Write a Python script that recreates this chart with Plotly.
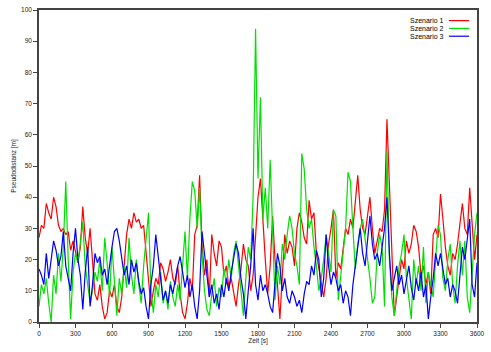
import plotly.graph_objects as go

t = list(range(0, 3601, 20))

szenario1 = [27, 31, 30, 38, 35, 33, 40, 37, 31, 29, 30, 28, 29, 23, 26,
             22, 19, 24, 37, 27, 22, 30, 18, 9, 7, 12, 5, 1, 3, 10,
             8, 12, 5, 3, 8, 18, 28, 33, 30, 35, 32, 33, 30, 31, 22,
             12, 5, 10, 14, 12, 19, 17, 13, 16, 20, 14, 12, 18, 9, 3,
             1, 6, 14, 10, 28, 31, 47, 25, 15, 20, 8, 28, 22, 18, 26,
             24, 15, 18, 11, 14, 9, 5, 12, 17, 25, 20, 18, 10, 15, 28,
             40, 46, 32, 20, 9, 18, 34, 20, 12, 1, 15, 28, 22, 26, 24,
             18, 30, 35, 32, 27, 25, 39, 33, 35, 22, 17, 12, 8, 14, 25,
             30, 36, 14, 19, 17, 24, 30, 28, 33, 30, 38, 47, 36, 30, 28,
             34, 40, 30, 22, 26, 30, 29, 36, 65, 45, 20, 2, 8, 15, 20,
             17, 26, 22, 25, 31, 29, 24, 15, 18, 12, 16, 9, 28, 30, 27,
             41, 33, 24, 18, 15, 22, 20, 25, 32, 38, 30, 28, 43, 33, 20,
             28]

szenario2 = [5, 12, 9, 14, 6, 0, 15, 9, 22, 13, 24, 45, 20, 1, 16,
             22, 19, 26, 32, 18, 12, 6, 10, 16, 13, 20, 10, 27, 19, 8,
             24, 12, 2, 14, 9, 18, 11, 27, 15, 9, 20, 12, 6, 18, 26,
             35, 10, 3, 12, 8, 16, 6, 10, 4, 13, 8, 5, 12, 7, 18,
             29, 14, 33, 45, 42, 30, 43, 22, 10, 4, 2, 9, 14, 5, 11,
             8, 17, 12, 20, 14, 22, 26, 18, 8, 2, 14, 24, 20, 40, 94,
             46, 72, 33, 43, 30, 52, 28, 7, 18, 12, 25, 20, 28, 34, 30,
             22, 18, 12, 54, 49, 36, 30, 33, 24, 18, 10, 14, 20, 28, 22,
             16, 36, 34, 7, 14, 22, 30, 48, 45, 30, 17, 25, 30, 33, 27,
             20, 14, 6, 8, 22, 28, 24, 5, 55, 20, 8, 2, 10, 18, 22,
             28, 14, 8, 1, 20, 12, 18, 10, 24, 6, 16, 12, 8, 20, 31,
             28, 14, 10, 20, 25, 12, 6, 18, 26, 15, 26, 8, 3, 14, 28,
             35]

szenario3 = [17, 15, 12, 22, 14, 20, 26, 23, 18, 21, 29, 18, 14, 10, 22,
             30, 20, 15, 4, 16, 24, 5, 12, 22, 19, 21, 15, 17, 12, 19,
             24, 29, 30, 26, 21, 15, 18, 12, 20, 16, 19, 13, 9, 11, 5,
             1, 12, 18, 28, 20, 14, 7, 10, 6, 12, 9, 14, 18, 21, 16,
             11, 15, 8, 12, 5, 1, 10, 29, 22, 14, 8, 12, 6, 9, 4,
             12, 8, 14, 10, 16, 20, 25, 22, 14, 9, 1, 10, 18, 30, 12,
             7, 15, 10, 12, 9, 5, 3, 14, 22, 18, 10, 14, 8, 6, 10,
             8, 5, 7, 3, 9, 13, 12, 18, 15, 23, 20, 8, 14, 28, 18,
             12, 16, 14, 10, 12, 6, 10, 8, 2, 12, 18, 24, 30, 22, 18,
             26, 34, 25, 20, 22, 18, 24, 30, 40, 22, 10, 14, 18, 12, 15,
             9, 14, 18, 11, 7, 14, 10, 16, 8, 12, 1, 8, 14, 22, 18,
             22, 17, 12, 14, 8, 12, 10, 6, 15, 24, 20, 26, 33, 12, 8,
             19]

series = [("Szenario 1", szenario1, "#ff0000"),
          ("Szenario 2", szenario2, "#00e000"),
          ("Szenario 3", szenario3, "#0000ff")]

x_ticks = list(range(0, 3601, 300))
y_ticks = list(range(0, 101, 10))

font = "Liberation Sans, Arial, sans-serif"
fig = go.Figure()
for name, vals, col in series:
    fig.add_trace(go.Scatter(x=t, y=vals, mode="lines", name=name,
                             line=dict(color=col, width=1.2), showlegend=False))

# gnuplot-style key: text right-aligned, line sample to the right
key_y = [0.966, 0.941, 0.916]
for (name, vals, col), ky in zip(series, key_y):
    fig.add_annotation(xref="paper", yref="paper", x=0.929, y=ky, text=name,
                       showarrow=False, xanchor="right", yanchor="middle",
                       font=dict(family=font, size=7, color="#000000"))
    fig.add_shape(type="line", xref="paper", yref="paper", x0=0.936, x1=0.982,
                  y0=ky, y1=ky, line=dict(color=col, width=1.2))

axis_common = dict(showline=True, linecolor="#444444", linewidth=1.5, mirror=True,
                   ticks="outside", ticklen=4, tickwidth=1, tickcolor="#444444",
                   showgrid=False, zeroline=False,
                   tickfont=dict(family=font, size=6.5, color="#222222"))

fig.update_layout(
    width=491, height=352,
    margin=dict(l=39, r=13, t=6, b=30),
    paper_bgcolor="white", plot_bgcolor="white",
    xaxis=dict(range=[0, 3600], tickvals=x_ticks,
               title=dict(text="Zeit [s]", font=dict(family=font, size=6.5, color="#222222"), standoff=2),
               **axis_common),
    yaxis=dict(range=[0, 100], tickvals=y_ticks,
               title=dict(text="Pseudodistanz [m]", font=dict(family=font, size=6.5, color="#222222"), standoff=4),
               **axis_common),
)

fig.write_html("out.html")
